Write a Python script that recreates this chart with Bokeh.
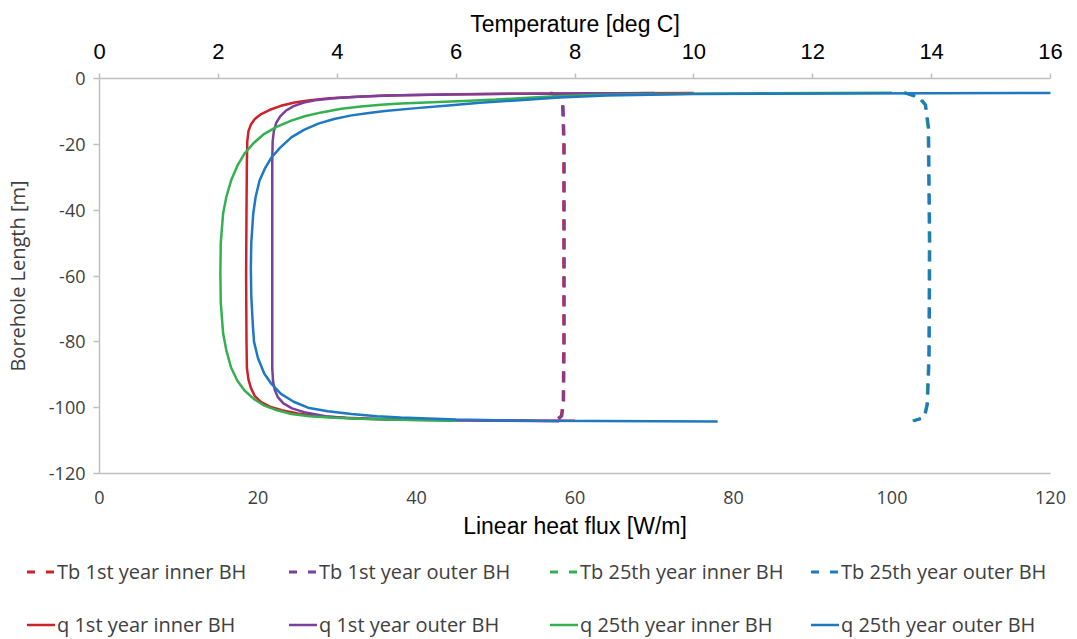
from bokeh.plotting import figure
from bokeh.models import Range1d, LinearAxis, FixedTicker, Div
from bokeh.layouts import column
from bokeh.embed import file_html
from bokeh.resources import INLINE

# ---------------- data ----------------
# Borehole wall temperatures [deg C] vs depth [m]  (top axis)
tb1_inner_T = [7.58, 7.73, 7.79, 7.81, 7.81, 7.81, 7.80, 7.77, 7.68]
tb1_inner_z = [-4.4, -5.5, -8.0, -20.0, -50.0, -80.0, -98.0, -102.5, -103.8]
tb1_outer_T = [7.60, 7.75, 7.80, 7.82, 7.82, 7.82, 7.81, 7.78, 7.70]
tb1_outer_z = [-4.4, -5.5, -8.0, -20.0, -50.0, -80.0, -98.0, -102.5, -103.8]
tb25_inner_T = [13.53, 13.78, 13.89, 13.94, 13.96, 13.95, 13.92, 13.87, 13.68]
tb25_inner_z = [-4.3, -5.8, -8.0, -15.0, -50.0, -85.0, -99.0, -103.0, -104.0]
tb25_outer_T = [13.55, 13.80, 13.90, 13.95, 13.97, 13.96, 13.93, 13.88, 13.70]
tb25_outer_z = [-4.3, -5.8, -8.0, -15.0, -50.0, -85.0, -99.0, -103.0, -104.0]

# Linear heat flux [W/m] vs depth [m]  (bottom axis)
q1_inner_q = [75, 52, 42, 36, 32, 29, 26.6, 24.6, 22.9, 21.5, 20.4, 19.6, 19.1, 18.8, 18.65,
              18.6, 18.55, 18.5, 18.55, 18.6, 18.8, 19.1, 19.6, 20.4, 21.5, 23, 25, 27.5,
              31, 36, 45, 60]
q1_inner_z = [-4.4, -4.6, -4.9, -5.2, -5.6, -6.0, -6.6, -7.3, -8.3, -9.5, -10.8, -12.3, -14,
              -16, -19, -25, -40, -60, -80, -88, -91.5, -94, -96.5, -98.3, -99.7, -100.8,
              -101.8, -102.6, -103.1, -103.5, -103.8, -104]
q1_outer_q = [70, 55, 45, 38, 33, 30, 27.5, 25.8, 24.5, 23.5, 22.8, 22.3, 22.0, 21.85, 21.8,
              21.8, 21.8, 21.8, 21.8, 21.9, 22.1, 22.5, 23.2, 24.3, 26, 28.5, 32, 38, 48, 58]
q1_outer_z = [-4.4, -4.6, -4.8, -5.1, -5.5, -5.9, -6.5, -7.3, -8.4, -9.8, -11.5, -13.5, -16,
              -19, -25, -40, -60, -80, -88, -92, -94.5, -96.8, -98.7, -100.2, -101.5,
              -102.6, -103.3, -103.7, -103.9, -104.1]
q25_inner_q = [100, 70, 62, 57, 53, 50, 46, 42, 38, 35.5, 33, 30.5, 28, 26, 24.2, 22.4, 20.8,
               19.5, 18.3, 17.4, 16.6, 16.0, 15.6, 15.3, 15.25, 15.3, 15.6, 16.0, 16.6, 17.4,
               18.3, 19.5, 20.8, 22.4, 24.2, 26.5, 29.6, 33, 38, 45]
q25_inner_z = [-4.3, -4.7, -5.0, -5.5, -6.0, -6.4, -6.8, -7.2, -7.6, -8.0, -8.5, -9.2, -10.3,
               -11.4, -12.8, -14.6, -16.8, -19.5, -22.8, -26.5, -31, -36, -41, -50, -59.3,
               -68, -77.5, -82.5, -87.8, -91.8, -94.8, -97.4, -99.4, -100.8, -101.9, -102.6,
               -103.1, -103.4, -103.7, -104]
q25_outer_q = [135, 75, 64, 58, 53, 48, 44, 40, 36, 34, 31.8, 29.6, 27.6, 25.8, 24.2, 22.8,
               21.7, 20.9, 20.2, 19.7, 19.4, 19.15, 19.1, 19.15, 19.35, 19.5, 20, 20.8, 21.7,
               22.9, 24.5, 26.3, 28.8, 31.8, 35, 38, 45, 55, 78]
q25_outer_z = [-4.3, -4.7, -5.2, -5.8, -6.6, -7.4, -8.2, -9.0, -9.9, -10.5, -11.2, -12.3, -13.7,
               -15.6, -17.9, -21, -24, -27.2, -31, -36, -41, -50, -57.5, -66, -75, -80, -85,
               -89.7, -92.8, -95.8, -98.2, -100, -101.1, -101.9, -102.6, -103, -103.6, -104,
               -104.2]

flux_ticks = [0, 20, 40, 60, 80, 100, 120]
temp_ticks = [0, 2, 4, 6, 8, 10, 12, 14, 16]
depth_ticks = [-120, -100, -80, -60, -40, -20, 0]

series_labels = ["Tb 1st year inner BH", "Tb 1st year outer BH", "Tb 25th year inner BH",
                 "Tb 25th year outer BH", "q 1st year inner BH", "q 1st year outer BH",
                 "q 25th year inner BH", "q 25th year outer BH"]

RED, PURPLE, GREEN, BLUE = "#CC2229", "#7B3F9E", "#33B150", "#1E78C2"
AX = "#BFBFBF"
DASH = "11 8"

p = figure(width=1072, height=553, x_range=Range1d(0, 120), y_range=Range1d(-120, 0),
           output_backend="svg", toolbar_location=None,
           x_axis_location=None, y_axis_location=None,
           min_border_left=98, min_border_right=22, min_border_top=78, min_border_bottom=80)
p.extra_x_ranges = {"temp": Range1d(0, 16)}
p.outline_line_color = None
for g in p.grid:
    g.visible = False

bottom = LinearAxis(ticker=FixedTicker(ticks=flux_ticks), axis_label="Linear heat flux [W/m]")
bottom.axis_line_color = AX
bottom.axis_line_width = 1.5
bottom.major_tick_out = 0
bottom.major_tick_in = 0
bottom.minor_tick_out = 0
bottom.minor_tick_in = 0
bottom.major_label_standoff = 17
bottom.major_label_text_font = "Open Sans"
bottom.major_label_text_font_size = "18px"
bottom.major_label_text_color = "#404040"
bottom.axis_label_text_font = "Liberation Sans"
bottom.axis_label_text_font_size = "23px"
bottom.axis_label_text_font_style = "normal"
bottom.axis_label_text_color = "black"
bottom.axis_label_standoff = 6
p.add_layout(bottom, "below")

top = LinearAxis(x_range_name="temp", ticker=FixedTicker(ticks=temp_ticks),
                 axis_label="Temperature [deg C]")
top.axis_line_color = AX
top.axis_line_width = 1.5
top.major_tick_line_color = AX
top.major_tick_line_width = 1.5
top.major_tick_out = 5
top.major_tick_in = 0
top.minor_tick_out = 0
top.minor_tick_in = 0
top.major_label_standoff = 15
top.major_label_text_font = "Liberation Sans"
top.major_label_text_font_size = "22px"
top.major_label_text_color = "black"
top.axis_label_text_font = "Liberation Sans"
top.axis_label_text_font_size = "23px"
top.axis_label_text_font_style = "normal"
top.axis_label_text_color = "black"
top.axis_label_standoff = 4
p.add_layout(top, "above")

left = LinearAxis(ticker=FixedTicker(ticks=depth_ticks), axis_label="Borehole Length [m]")
left.axis_line_color = AX
left.axis_line_width = 1.5
left.major_tick_line_color = AX
left.major_tick_line_width = 1.5
left.major_tick_out = 6
left.major_tick_in = 0
left.minor_tick_out = 0
left.minor_tick_in = 0
left.major_label_standoff = 8
left.major_label_overrides = {t: str(t) for t in depth_ticks}
left.major_label_text_font = "Open Sans"
left.major_label_text_font_size = "18px"
left.major_label_text_color = "#404040"
left.axis_label_text_font = "Open Sans"
left.axis_label_text_font_size = "20px"
left.axis_label_text_font_style = "normal"
left.axis_label_text_color = "#404040"
left.axis_label_standoff = 15
p.add_layout(left, "left")

p.line(tb1_inner_T, tb1_inner_z, x_range_name="temp", line_color=RED, line_width=3, line_dash=DASH)
p.line(tb1_outer_T, tb1_outer_z, x_range_name="temp", line_color=PURPLE, line_width=3, line_dash=DASH)
p.line(tb25_inner_T, tb25_inner_z, x_range_name="temp", line_color=GREEN, line_width=3, line_dash=DASH)
p.line(tb25_outer_T, tb25_outer_z, x_range_name="temp", line_color=BLUE, line_width=3, line_dash=DASH)
p.line(q1_inner_q, q1_inner_z, line_color=RED, line_width=2.5)
p.line(q1_outer_q, q1_outer_z, line_color=PURPLE, line_width=2.5)
p.line(q25_inner_q, q25_inner_z, line_color=GREEN, line_width=2.5)
p.line(q25_outer_q, q25_outer_z, line_color=BLUE, line_width=2.5)

# ---------------- legend strip (4 columns x 2 rows) ----------------
styles = [(RED, "8 11"), (PURPLE, "8 11"), (GREEN, "8 11"), (BLUE, "8 11"),
          (RED, None), (PURPLE, None), (GREEN, None), (BLUE, None)]
col_x = [27, 289, 550, 811]
row_y = [8, 61]
parts = []
for i, (lab, (c, d)) in enumerate(zip(series_labels, styles)):
    x = col_x[i % 4]
    y = row_y[i // 4]
    dash_attr = f' stroke-dasharray="{d}"' if d else ""
    sw = 3 if d else 2.5
    parts.append(
        f'<div style="position:absolute;left:{x}px;top:{y}px;height:22px;white-space:nowrap;">'
        f'<svg width="28" height="22" style="position:absolute;left:0;top:0;">'
        f'<line x1="0" y1="11" x2="28" y2="11" stroke="{c}" stroke-width="{sw}"{dash_attr}/></svg>'
        f'<span style="position:absolute;left:30px;top:0;line-height:22px;'
        f'font-family:\'Open Sans\';font-size:20px;color:#404040;">{lab}</span></div>'
    )
legend_html = ('<div style="position:relative;width:1072px;height:85px;margin:0;padding:0;">'
               + "".join(parts) + "</div>")
legend_div = Div(text=legend_html, width=1072, height=85, margin=0)

layout = column(p, legend_div, spacing=0)
open("out.html", "w").write(file_html(layout, INLINE))
